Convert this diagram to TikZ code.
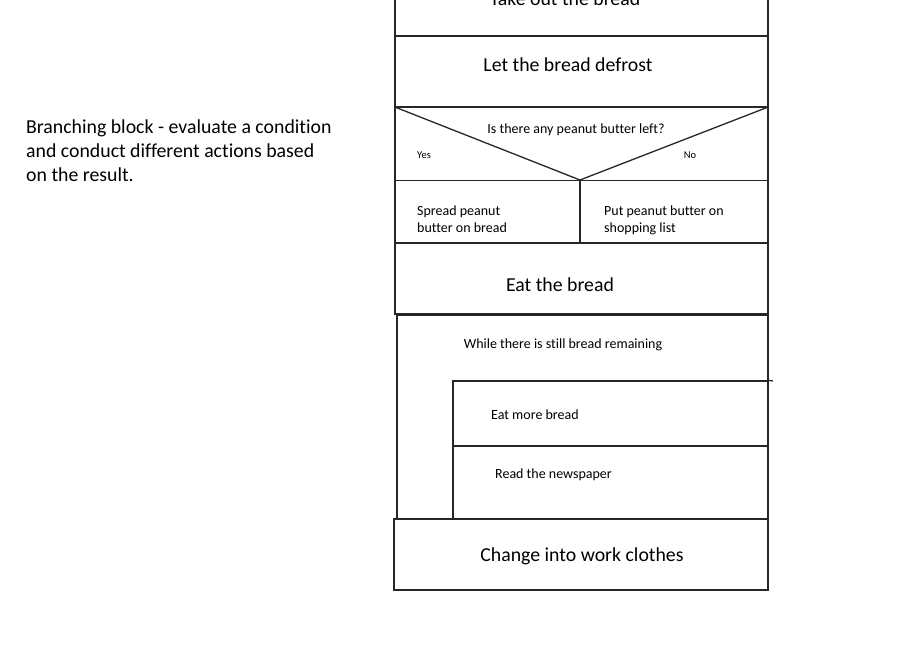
\documentclass[tikz,border=0pt]{standalone}
\usepackage{fontspec}
\setmainfont[Ligatures=NoCommon]{Carlito}
\begin{document}
\begin{tikzpicture}[x=1pt,y=-1pt,
  blk/.style={draw=black!85,line width=1.3pt,rectangle,inner sep=0pt,minimum width=#1},
  big/.style={font=\fontsize{19.8}{24}\selectfont,inner sep=0pt},
  mid/.style={font=\fontsize{14}{17}\selectfont,inner sep=0pt},
  sml/.style={font=\fontsize{10.5}{12}\selectfont,inner sep=0pt},
  edge/.style={draw=black!85,line width=1.3pt}]
\useasboundingbox (0,0) rectangle (918,660);
\clip (0,0) rectangle (918,660);
% boxes
\node[blk=373pt,minimum height=72pt] (b1) at (581.5,0) {};
\node[blk=373pt,minimum height=71pt] (b2) at (581.5,71.5) {};
\node[blk=373pt,minimum height=73pt] (dec) at (581.5,144) {};
\node[blk=185pt,minimum height=62pt] (yes) at (487.5,211.5) {};
\node[blk=188pt,minimum height=62pt] (no) at (674,211.5) {};
\node[blk=373pt,minimum height=71pt] (eat) at (581.5,278.5) {};
\node[blk=371pt,minimum height=204pt] (loop) at (582.5,417) {};
\node[blk=315pt,minimum height=65pt] (more) at (610.5,413.5) {};
\node[blk=315pt,minimum height=73pt] (news) at (610.5,482.5) {};
\node[blk=374pt,minimum height=71pt] (work) at (581,554.5) {};
\coordinate (tip) at (580,180);
\coordinate (ext) at (773,381);
% decision diagonals
\draw[edge] (dec.north west) -- (tip) -- (dec.north east);
\draw[edge] (more.north east) -- (ext);
% texts
\node[big] (t1) at (565,-1) {Take out the bread};
\node[big] (t2) at (568,65) {Let the bread defrost};
\node[mid] (tq) at (576,130) {Is there any peanut butter left?};
\node[sml] (ty) at (424,155) {Yes};
\node[sml] (tn) at (690,155) {No};
\node[mid,anchor=base west,align=left] (tyes) at (417,233) {Spread peanut\\butter on bread};
\node[mid,anchor=base west,align=left] (tno) at (604,233) {Put peanut butter on\\shopping list};
\node[big] (te) at (560,285) {Eat the bread};
\node[mid] (tw) at (563,345) {While there is still bread remaining};
\node[mid,anchor=west] (tm) at (491,415) {Eat more bread};
\node[mid,anchor=west] (tr) at (495,475) {Read the newspaper};
\node[big] (tc) at (582,556) {Change into work clothes};
\node[anchor=base west,align=left,inner sep=0pt,font=\fontsize{19.8}{24}\selectfont] (side) at (26,182) {Branching block - evaluate a condition\\and conduct different actions based\\on the result.};
\end{tikzpicture}
\end{document}
